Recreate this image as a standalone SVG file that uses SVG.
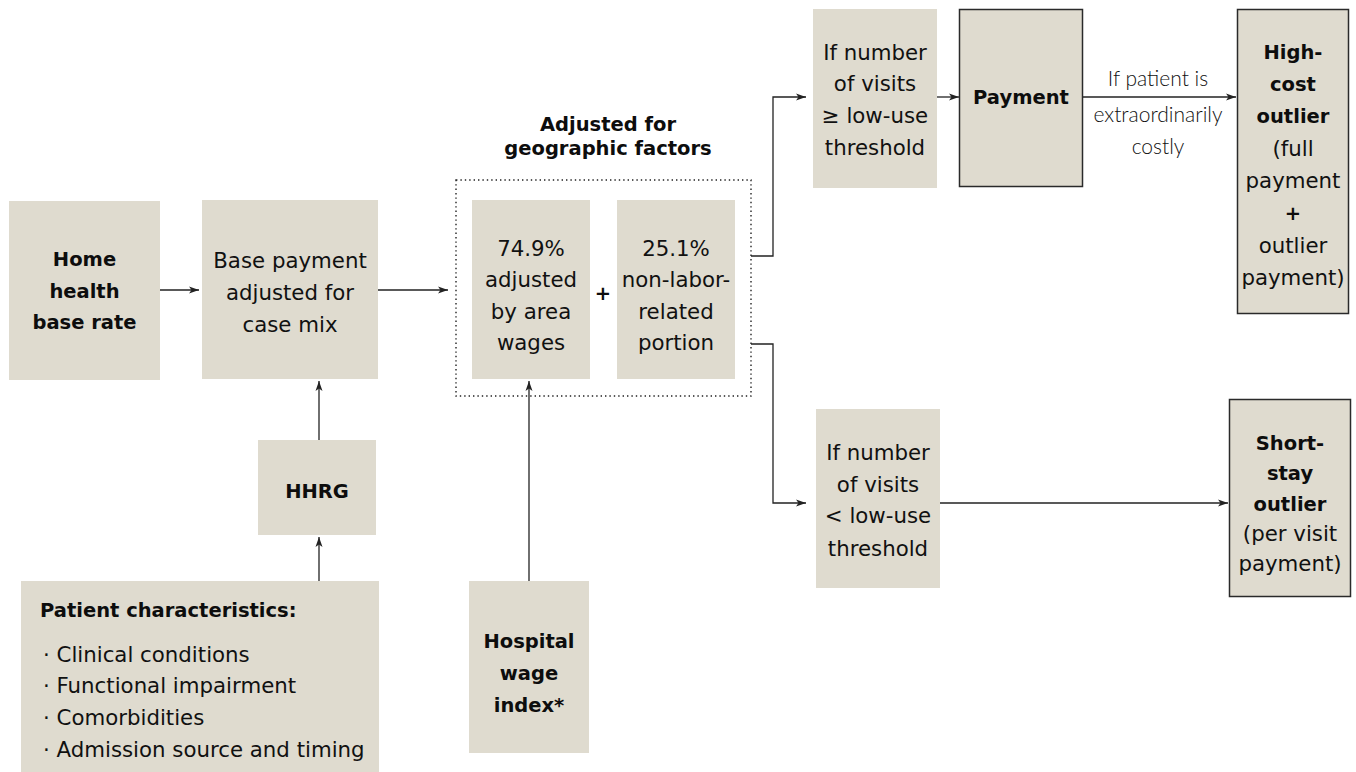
<svg xmlns="http://www.w3.org/2000/svg" width="1356" height="772" viewBox="0 0 1356 772">
<style>
.box{fill:#dfdbcf}
.bbox{fill:#dfdbcf;stroke:#2a2a2a;stroke-width:1.5}
.t{font-family:"DejaVu Sans","Liberation Sans",sans-serif;font-size:21.3px;fill:#111;text-anchor:middle}
.b{font-family:"DejaVu Sans","Liberation Sans",sans-serif;font-size:19.5px;font-weight:bold;fill:#0d0d0d;text-anchor:middle}
.l{font-family:Lato,"Liberation Sans",sans-serif;font-weight:300;font-size:21px;fill:#111;text-anchor:middle}
.c{fill:none;stroke:#222;stroke-width:1.3}
</style>
<defs>
<marker id="ah" markerWidth="10" markerHeight="8" refX="10" refY="4" orient="auto" markerUnits="userSpaceOnUse">
<path d="M0,0.5 L10,4 L0,7.5 L2.5,4 Z" fill="#222"/>
</marker>
</defs>
<rect width="1356" height="772" fill="#fff"/>

<g id="connectors">
<path class="c" d="M160,290 H199" marker-end="url(#ah)"/>
<path class="c" d="M378,290 H448" marker-end="url(#ah)"/>
<path class="c" d="M319,440 V381" marker-end="url(#ah)"/>
<path class="c" d="M319,581 V537" marker-end="url(#ah)"/>
<path class="c" d="M529,581 V381" marker-end="url(#ah)"/>
<path class="c" d="M751,256 H773 V97 H806" marker-end="url(#ah)"/>
<path class="c" d="M751,344 H773 V503 H806" marker-end="url(#ah)"/>
<path class="c" d="M937,97 H959" marker-end="url(#ah)"/>
<path class="c" d="M1083,97 H1236" marker-end="url(#ah)"/>
<path class="c" d="M940,503 H1228" marker-end="url(#ah)"/>
</g>

<g id="home-base-rate">
<rect class="box" x="9" y="201" width="151" height="179"/>
<text class="b" x="84.5" y="266">Home</text>
<text class="b" x="84.5" y="298">health</text>
<text class="b" x="84.5" y="329">base rate</text>
</g>

<g id="base-payment">
<rect class="box" x="202" y="200" width="176" height="179"/>
<text class="t" x="290" y="268">Base payment</text>
<text class="t" x="290" y="300">adjusted for</text>
<text class="t" x="290" y="332">case mix</text>
</g>

<g id="hhrg">
<rect class="box" x="258" y="440" width="118" height="95"/>
<text class="b" x="317" y="498">HHRG</text>
</g>

<g id="patient-characteristics">
<rect class="box" x="21" y="581" width="358" height="191"/>
<text class="b" x="40" y="617" style="text-anchor:start">Patient characteristics:</text>
<text class="t" x="43" y="662" style="text-anchor:start">· Clinical conditions</text>
<text class="t" x="43" y="693" style="text-anchor:start">· Functional impairment</text>
<text class="t" x="43" y="725" style="text-anchor:start">· Comorbidities</text>
<text class="t" x="43" y="757" style="text-anchor:start">· Admission source and timing</text>
</g>

<g id="hospital-wage-index">
<rect class="box" x="469" y="581" width="120" height="172"/>
<text class="b" x="529" y="648">Hospital</text>
<text class="b" x="529" y="680">wage</text>
<text class="b" x="529" y="712">index*</text>
</g>

<g id="geographic-adjustment">
<text class="b" x="608" y="131">Adjusted for</text>
<text class="b" x="608" y="155">geographic factors</text>
<rect x="456" y="180" width="295" height="216" fill="none" stroke="#222" stroke-width="1.4" stroke-dasharray="1.4 3"/>
<text class="b" x="603" y="300">+</text>
</g>

<g id="labor-portion">
<rect class="box" x="472" y="200" width="118" height="179"/>
<text class="t" x="531" y="256">74.9%</text>
<text class="t" x="531" y="287">adjusted</text>
<text class="t" x="531" y="319">by area</text>
<text class="t" x="531" y="350">wages</text>
</g>

<g id="nonlabor-portion">
<rect class="box" x="617" y="200" width="118" height="179"/>
<text class="t" x="676" y="256">25.1%</text>
<text class="t" x="676" y="287">non-labor-</text>
<text class="t" x="676" y="319">related</text>
<text class="t" x="676" y="350">portion</text>
</g>

<g id="visits-above-threshold">
<rect class="box" x="813" y="9" width="124" height="179"/>
<text class="t" x="875" y="60">If number</text>
<text class="t" x="875" y="91">of visits</text>
<text class="t" x="875" y="123">≥ low-use</text>
<text class="t" x="875" y="155">threshold</text>
</g>

<g id="payment">
<rect class="bbox" x="959.5" y="9.5" width="123" height="177"/>
<text class="b" x="1021" y="104">Payment</text>
</g>

<g id="extraordinary-label">
<text class="l" x="1158" y="86">If patient is</text>
<text class="l" x="1158" y="122">extraordinarily</text>
<text class="l" x="1158" y="154">costly</text>
</g>

<g id="high-cost-outlier">
<rect class="bbox" x="1237.5" y="9.5" width="111" height="304"/>
<text class="b" x="1293" y="59">High-</text>
<text class="b" x="1293" y="91">cost</text>
<text class="b" x="1293" y="123">outlier</text>
<text class="t" x="1293" y="156">(full</text>
<text class="t" x="1293" y="188">payment</text>
<text class="b" x="1293" y="220">+</text>
<text class="t" x="1293" y="253">outlier</text>
<text class="t" x="1293" y="285">payment)</text>
</g>

<g id="visits-below-threshold">
<rect class="box" x="816" y="409" width="124" height="179"/>
<text class="t" x="878" y="460">If number</text>
<text class="t" x="878" y="492">of visits</text>
<text class="t" x="878" y="523">&lt; low-use</text>
<text class="t" x="878" y="556">threshold</text>
</g>

<g id="short-stay-outlier">
<rect class="bbox" x="1229.5" y="399.5" width="121" height="197"/>
<text class="b" x="1290" y="450">Short-</text>
<text class="b" x="1290" y="480">stay</text>
<text class="b" x="1290" y="511">outlier</text>
<text class="t" x="1290" y="541">(per visit</text>
<text class="t" x="1290" y="571">payment)</text>
</g>
</svg>
